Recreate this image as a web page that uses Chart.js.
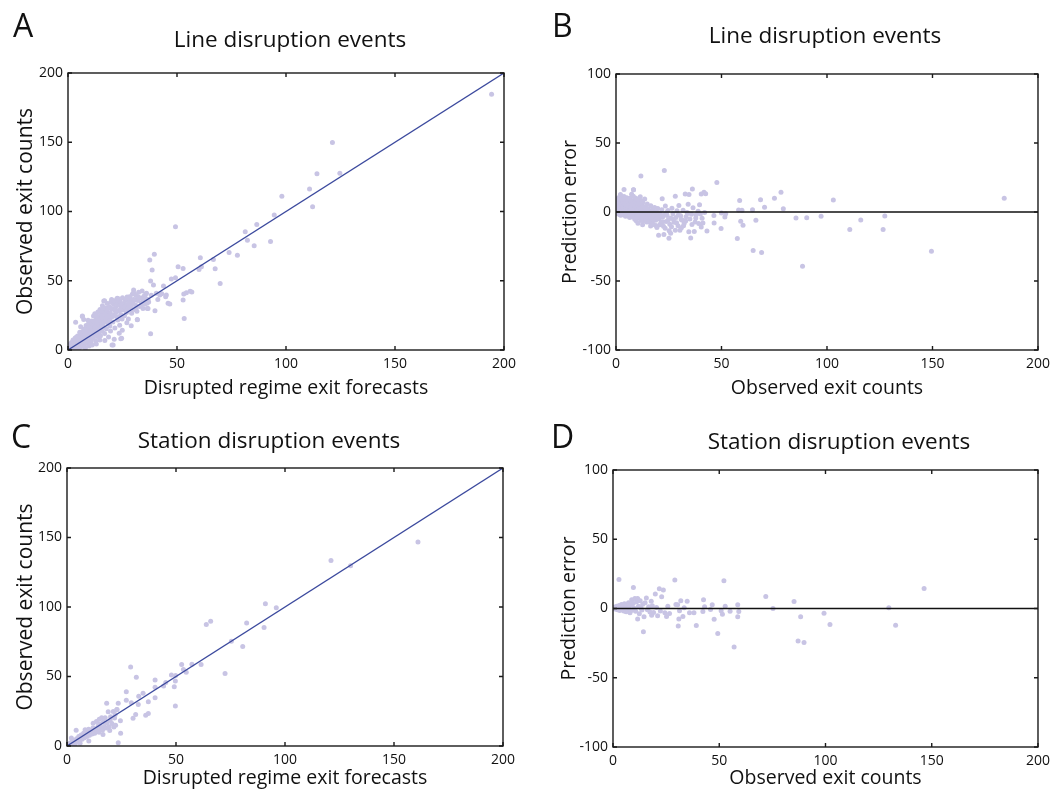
<!DOCTYPE html>
<html>
<head>
<meta charset="utf-8">
<script src="https://cdn.jsdelivr.net/npm/chart.js@4/dist/chart.umd.min.js"></script>
<style>
  body { margin: 0; background: #fff; }
  #wrap { position: relative; width: 1056px; height: 792px; font-family: "Open Sans", sans-serif; color: #111; }
  .panel { position: absolute; width: 528px; }
  .panel canvas { display: block; }
  .letter { position: absolute; font-size: 32px; line-height: 32px; }
  .title { position: absolute; width: 400px; text-align: center; font-size: 22.5px; line-height: 22px; }
</style>
</head>
<body>
<div id="wrap">
  <div class="panel" style="left:0;top:0"><canvas id="chartA" width="528" height="402"></canvas></div>
  <div class="panel" style="left:528px;top:0"><canvas id="chartB" width="528" height="402"></canvas></div>
  <div class="panel" style="left:0;top:396px"><canvas id="chartC" width="528" height="396"></canvas></div>
  <div class="panel" style="left:528px;top:396px"><canvas id="chartD" width="528" height="396"></canvas></div>

  <div class="letter" style="left:13px;top:9px">A</div>
  <div class="letter" style="left:552px;top:9px">B</div>
  <div class="letter" style="left:11px;top:420px">C</div>
  <div class="letter" style="left:551px;top:420px">D</div>

  <div class="title" style="left:90px;top:28px">Line disruption events</div>
  <div class="title" style="left:625px;top:24px">Line disruption events</div>
  <div class="title" style="left:69px;top:429px">Station disruption events</div>
  <div class="title" style="left:639px;top:430px">Station disruption events</div>
</div>

<script>
// ---- DATA ----
const axisTicks = [0, 50, 100, 150, 200];
const errorTicks = [-100, -50, 0, 50, 100];
const refLineX = [0, 200];

// A: line disruptions, [forecast, observed]
const lineForecastVsObserved = [
  [0.3,0.5],[0.6,1.8],[1.0,0.4],[1.2,2.6],[1.5,1.1],[1.8,3.4],[2.0,0.2],[2.2,1.9],[2.5,4.1],[2.7,2.8],
  [3.0,0.9],[3.1,5.2],[3.4,3.3],[3.6,1.6],[3.9,6.4],[4.1,4.5],[4.3,2.4],[4.6,7.5],[4.8,5.6],[5.0,3.1],
  [0.8,3.9],[1.6,5.5],[2.3,7.2],[3.3,8.6],[4.4,10.1],[4.0,0.8],[5.2,1.7],
  [5.3,8.8],[5.5,6.2],[5.7,4.0],[5.9,11.4],[6.1,7.3],[6.3,2.6],[6.5,9.6],[6.7,13.3],[6.9,5.4],[7.1,8.1],
  [7.3,15.2],[7.5,3.7],[7.7,10.8],[7.9,6.9],[8.1,12.4],[8.3,17.6],[8.5,4.8],[8.7,9.3],[8.9,14.6],[9.1,7.8],
  [9.3,11.7],[9.5,19.4],[9.7,2.9],[9.9,13.5],[10.0,8.9],[6.6,24.2],[7.2,22.1],[9.2,21.5],[5.8,16.7],[8.0,1.4],
  [10.2,16.3],[10.4,10.7],[10.6,5.9],[10.8,21.0],[11.0,13.2],[11.3,18.5],[11.5,8.4],[11.7,24.6],[11.9,15.7],
  [12.1,11.3],[12.3,26.2],[12.5,19.8],[12.7,6.7],[12.9,14.4],[13.1,22.6],[13.3,17.1],[13.5,9.8],[13.7,27.4],
  [13.9,20.3],[14.1,12.6],[14.3,24.0],[14.5,16.2],[14.7,29.3],[14.9,10.2],[15.0,21.4],[11.1,3.6],[13.0,4.3],[14.6,7.2],
  [15.2,18.6],[15.4,25.9],[15.6,13.7],[15.8,32.0],[16.0,22.5],[16.2,16.8],[16.4,35.3],[16.6,27.7],[16.8,11.9],
  [17.0,20.6],[17.2,30.4],[17.4,24.3],[17.6,15.3],[17.8,28.8],[18.0,33.6],[18.2,19.5],[18.4,26.1],[18.6,9.4],
  [18.8,22.9],[19.0,31.2],[19.2,17.4],[19.4,27.1],[19.6,34.5],[19.8,23.8],[20.0,36.4],[20.2,3.6],[19.5,13.8],[16.9,6.8],
  [20.3,29.6],[20.6,20.2],[20.9,33.1],[21.2,25.4],[21.5,15.9],[21.8,30.7],[22.1,27.3],[22.4,36.8],[22.6,37.3],
  [22.8,21.7],[23.1,32.4],[23.4,28.5],[23.7,17.8],[24.0,34.9],[24.2,25.6],[24.5,30.1],[24.6,8.4],[24.8,22.3],
  [25.0,37.7],[21.2,7.7],[23.5,12.1],[24.9,14.2],[22.0,33.9],
  [25.3,28.9],[25.6,33.4],[25.9,24.8],[26.2,35.6],[26.5,30.3],[26.8,27.1],[27.1,38.2],[27.4,32.6],[27.7,22.4],
  [28.0,35.0],[28.3,29.7],[28.6,36.9],[28.9,31.8],[29.2,26.5],[29.5,40.3],[29.8,33.7],[30.1,43.3],[30.1,41.4],
  [30.4,29.2],[27.0,19.6],[29.0,17.5],
  [30.7,36.2],[31.0,32.5],[31.3,39.4],[31.6,28.0],[31.8,21.9],[32.0,35.8],[32.4,41.7],[32.8,31.4],[33.2,37.5],
  [33.6,34.1],[34.0,42.6],[34.4,29.9],[34.8,38.8],[35.2,33.0],[35.6,40.5],[36.0,41.0],[36.4,30.0],[36.7,36.4],[37.0,34.6],
  [0.5,2.4],[0.9,1.0],[1.3,4.3],[1.7,0.6],[2.1,5.0],[2.4,2.2],[2.8,6.0],[3.2,1.3],[3.5,4.7],[3.8,9.2],
  [4.2,3.0],[4.5,5.9],[4.9,8.3],[5.4,12.8],[5.6,2.2],[6.0,9.9],[6.4,5.1],[6.8,11.6],[7.0,3.0],[7.4,12.9],
  [7.8,9.0],[8.2,5.6],[8.6,15.8],[9.0,10.6],[9.4,6.1],[9.8,16.9],[10.1,12.3],[10.5,8.0],[10.9,18.9],[11.2,14.8],
  [11.6,10.0],[12.0,20.9],[12.4,16.3],[12.8,12.0],[13.2,24.8],[13.6,19.0],[14.0,15.2],[14.4,21.8],[14.8,13.6],[15.3,27.9],
  [15.7,23.2],[16.1,19.4],[16.5,30.1],[17.1,25.9],[17.5,22.1],[18.1,29.6],[18.7,24.6],[19.3,20.9],[19.9,30.0],[20.5,24.2],
  [21.1,35.4],[21.7,28.6],[22.5,24.0],[23.3,35.6],[24.1,29.3],[24.8,33.1],[25.7,31.0],[26.6,36.8],[27.5,29.8],[28.2,38.4],
  [29.1,34.4],[30.0,36.5],[31.1,30.3],[32.2,38.3],[33.4,32.2],[34.6,36.3],[35.5,37.5],[36.3,33.7],[38.2,39.6],[41.2,36.4],[43.0,40.6],
  [194.3,184.6],[121.3,149.8],[114.2,127.2],[124.7,127.6],[110.8,116.3],[112.2,103.4],[98.1,111.1],[94.6,97.4],
  [86.6,90.6],[81.3,85.3],[82.3,79.3],[85.4,75.2],[92.9,78.4],[73.9,70.4],[77.7,68.5],[60.7,66.6],[66.7,65.4],
  [67.5,58.7],[69.8,48.1],[60.1,58.2],[61.2,60.1],[49.3,88.9],[39.6,69.2],[37.5,64.9],[38.6,57.7],[50.5,60.1],
  [52.8,58.9],[47.4,51.2],[49.3,52.2],[37.9,49.8],[39.2,46.9],[43.8,46.2],[53.1,40.4],[54.3,41.3],[56.0,42.5],
  [56.8,41.8],[52.8,36.1],[53.3,22.8],[37.9,11.8],[39.9,28.4],[42.1,39.7],[44.8,38.5],[45.1,39.7],[45.9,33.7],
  [46.7,33.2],[40.5,40.9],[23.1,37.0],[16.8,35.6],[6.6,24.5],[3.5,20.0],[20.7,3.6],[24.2,8.2],[31.8,22.1],[36.7,30.0]
];

// B: line disruptions, [observed, prediction error]
const lineObservedVsError = [
  [0.5,1.2],[0.8,4.5],[1.0,-1.3],[1.3,7.6],[1.5,2.8],[1.8,0.3],[2.0,5.9],[2.3,-2.4],[2.5,9.8],[2.8,3.7],
  [3.0,1.0],[3.3,6.6],[3.5,-0.8],[3.8,11.2],[4.0,4.2],[4.3,2.0],[4.5,-3.1],[4.8,7.9],[5.0,0.6],[1.2,10.4],[2.1,12.6],[0.6,-0.4],
  [5.3,5.1],[5.6,-1.9],[5.9,9.2],[6.2,2.7],[6.5,-4.0],[6.8,6.8],[7.1,0.9],[7.4,12.8],[7.7,3.9],[8.0,-2.6],
  [8.3,8.3],[8.6,1.5],[8.9,-5.2],[9.2,10.1],[9.5,4.4],[9.8,-1.0],[10.0,6.3],[8.3,16.1],[6.0,-3.1],[9.6,-6.4],
  [10.3,2.2],[10.6,-3.7],[10.9,8.7],[11.2,0.4],[11.5,11.0],[11.8,-6.1],[12.1,4.9],[12.4,-1.8],[12.7,7.1],[13.0,1.7],
  [13.3,-4.8],[13.6,9.4],[13.9,-0.5],[14.2,3.5],[14.5,-7.3],[14.8,5.8],[15.0,-2.2],[11.8,26.0],[10.4,-8.1],[12.6,-9.2],
  [15.3,2.4],[15.6,-5.6],[15.9,0.8],[16.2,-3.3],[16.5,4.6],[16.8,-8.4],[17.1,-1.4],[17.4,1.9],[17.7,-6.2],[18.0,-0.6],
  [18.3,3.3],[18.6,-4.1],[18.9,-9.7],[19.2,0.2],[19.5,-2.9],[19.8,2.6],
  [20.2,-16.8],[20.5,-5.1],[20.9,-0.9],[21.3,-7.8],[21.7,1.6],[21.9,9.6],[22.1,-3.6],[22.5,-10.4],[22.7,-16.3],[22.9,30.0],
  [23.0,-1.9],[23.4,4.3],[23.8,-6.9],[24.2,-2.5],[24.6,1.1],[25.1,-19.0],[25.2,-13.5],[25.5,-8.8],[25.9,-15.4],[26.0,-4.4],
  [26.5,2.8],[27.0,-1.3],[27.5,-7.5],[28.1,11.5],[28.1,-13.2],[28.4,-3.9],[28.9,0.9],[29.4,-9.9],[29.8,4.7],
  [30.3,-13.2],[30.6,-2.7],[31.0,-11.5],[31.4,-6.0],[31.8,1.3],[32.3,-8.3],[32.8,13.0],[33.2,-3.4],[33.7,-0.4],[34.2,5.6],
  [34.5,-14.4],[34.6,12.7],[35.0,-5.0],[35.4,-18.8],[35.8,-1.6],[36.2,16.6],[36.5,3.0],[37.1,-14.2],[37.5,-7.2],[38.0,-2.0],
  [38.9,0.5],[39.6,5.3],[40.4,-10.8],[40.4,13.0],[40.8,-4.6],[41.2,-7.9],[41.7,14.4],[42.5,13.2],[42.0,-0.3],[43.1,-13.7],
  [0.4,3.0],[0.7,6.2],[0.9,8.8],[1.1,2.0],[1.4,5.0],[1.7,9.1],[1.9,-2.0],[2.2,3.4],[2.4,7.0],[2.6,1.1],
  [2.9,5.4],[3.1,8.3],[3.2,-1.9],[3.4,3.0],[3.7,6.1],[3.9,0.2],[4.2,9.6],[4.4,5.5],[4.6,1.4],[4.9,3.3],
  [5.1,10.3],[5.4,-0.6],[5.7,4.0],[5.8,7.4],[6.1,0.0],[6.3,5.6],[6.6,9.9],[6.9,-1.6],[7.0,3.3],[7.2,7.9],
  [7.5,-3.4],[7.8,5.9],[8.1,1.0],[8.2,11.4],[8.5,-3.7],[8.8,4.7],[9.0,-0.3],[9.3,7.2],[9.7,2.2],[9.9,-3.9],
  [10.1,9.5],[10.5,4.1],[10.8,-1.4],[11.0,6.0],[11.4,-4.4],[11.7,2.6],[12.0,-2.9],[12.2,8.0],[12.5,0.8],[12.9,-6.3],
  [13.2,4.0],[13.5,-2.5],[13.8,0.9],[14.1,-5.3],[14.4,2.0],[14.7,-3.6],[15.1,-0.6],[15.5,-7.2],[16.0,-1.8],[16.4,-10.1],
  [17.0,-4.6],[17.6,-9.0],[18.2,-2.2],[18.8,-6.0],[19.4,-11.3],[19.9,-4.2],[20.8,-9.3],[21.5,-3.1],[22.2,-7.0],[23.3,-11.8],
  [24.0,-0.4],[24.8,-5.6],[26.3,-10.6],[27.2,-5.2],[28.7,-7.8],[29.6,-2.0],[30.9,-5.5],[32.0,-9.9],[33.0,-6.5],[34.0,-1.0],
  [36.0,-9.0],[37.8,-4.3],[39.2,-8.4],[40.0,-1.5],
  [184.0,9.9],[149.5,-28.4],[127.4,-2.9],[126.6,-12.7],[116.0,-5.8],[110.8,-12.7],[103.0,8.7],[97.2,-3.1],[90.4,-4.1],
  [85.3,-4.3],[88.4,-39.4],[79.3,2.4],[78.2,14.4],[75.1,9.9],[70.4,3.4],[68.5,8.9],[69.0,-29.3],[65.0,-27.9],[66.3,-6.0],
  [64.7,1.7],[60.2,-9.6],[59.1,-6.7],[59.7,1.2],[58.6,8.4],[58.1,1.4],[57.5,-19.2],[47.8,21.4],[49.8,-12.0],[46.5,-7.9],
  [46.4,-2.6],[51.6,-3.6],[52.0,-1.2],[50.0,-0.7],[3.8,16.3],[8.3,16.1]
];

// C: station disruptions, [forecast, observed]
const stationForecastVsObserved = [
  [0.4,0.6],[0.8,1.5],[1.2,0.3],[1.5,2.2],[1.9,1.1],[2.3,3.0],[2.6,1.8],[3.0,4.1],[3.3,2.5],[3.7,1.4],
  [4.0,3.6],[4.4,5.2],[4.7,2.9],[5.1,4.4],[5.4,6.8],[5.8,3.7],[6.2,5.5],[6.5,7.9],[6.9,4.8],[7.3,6.4],
  [7.6,9.1],[8.0,5.9],[8.4,7.6],[8.8,10.4],[9.1,6.8],[9.5,8.9],[9.9,12.1],[10.3,7.7],[10.7,9.8],[11.1,11.4],
  [11.5,8.6],[11.9,13.0],[12.3,10.6],[12.7,9.2],[13.1,12.4],[13.5,17.6],[13.9,11.0],[14.3,14.3],[14.7,9.9],[15.1,15.8],
  [15.5,12.7],[15.9,20.3],[16.3,11.5],[16.7,17.2],[17.1,14.1],[17.5,20.4],[17.9,12.9],[18.3,16.5],[18.9,24.7],[19.3,13.8],
  [19.8,18.4],[20.0,21.1],[20.6,16.2],[21.2,24.9],[21.8,20.2],[22.3,14.9],[22.9,26.2],[23.5,2.4],[23.5,30.7],[24.5,18.2],
  [24.6,9.1],[18.2,30.7],[4.2,11.3],[2.0,5.8],[8.3,11.7],[12.0,16.4],[14.8,19.2],[6.0,1.9],[10.0,3.6],[16.5,8.2],
  [19.6,11.1],[21.5,13.7],[22.1,22.6],
  [161.0,146.7],[121.1,133.5],[130.1,129.7],[91.0,102.3],[96.0,99.4],[90.4,85.2],[82.4,88.4],[80.6,71.5],[75.4,75.4],
  [72.5,52.1],[63.9,87.4],[65.9,89.8],[61.5,58.6],[57.3,58.8],[52.6,58.6],[53.4,55.0],[54.7,53.1],[47.9,51.1],[49.8,50.7],
  [49.7,46.8],[49.2,42.7],[49.7,28.8],[45.3,45.6],[44.3,43.2],[40.4,47.5],[40.4,42.3],[40.4,34.8],[29.2,56.9],[31.8,49.5],
  [34.9,37.9],[32.9,35.8],[32.7,29.8],[37.3,31.9],[36.1,22.1],[37.3,23.3],[31.5,22.6],[30.3,19.9],[27.2,39.1],[27.2,32.9],
  [29.5,31.2],[22.9,26.2]
];

// D: station disruptions, [observed, prediction error]
const stationObservedVsError = [
  [0.3,0.2],[0.7,1.0],[1.0,-0.4],[1.4,0.6],[1.8,1.6],[2.1,-0.9],[2.5,0.3],[2.8,21.0],[2.9,2.1],[3.2,-1.5],
  [3.6,0.8],[4.0,2.9],[4.3,-0.2],[4.7,1.4],[5.1,-1.8],[5.4,3.4],[5.8,0.5],[6.2,-2.4],[6.5,2.0],[6.9,-0.7],
  [7.3,4.1],[7.6,1.1],[8.0,-3.1],[8.4,2.6],[8.8,6.4],[9.1,-1.2],[9.5,3.7],[9.6,15.2],[9.9,0.2],[10.3,7.2],
  [10.7,-2.0],[11.1,4.8],[11.6,7.2],[11.6,-7.5],[12.0,1.6],[12.4,-3.8],[12.8,5.6],[13.2,0.4],[13.6,-1.1],[14.0,3.0],
  [14.3,-16.7],[14.6,-6.0],[15.1,4.1],[15.7,7.5],[16.2,-0.9],[16.8,1.2],[17.4,-2.6],[18.0,5.3],[18.2,-4.8],[18.5,1.9],
  [19.1,-2.9],[19.9,10.4],[20.5,0.7],[21.0,-5.3],[21.8,14.3],[22.3,-1.8],[22.9,8.5],[23.7,13.3],[24.4,-3.1],[25.2,-5.8],
  [25.8,1.7],[26.6,-3.6],
  [146.4,14.5],[129.8,0.5],[133.0,-12.1],[102.1,-11.6],[99.3,-3.4],[89.9,-24.6],[87.1,-23.4],[88.3,-6.0],[85.2,5.1],
  [75.3,0.0],[71.9,8.7],[57.0,-27.8],[59.2,-2.2],[58.7,-6.0],[58.7,2.7],[55.1,-1.9],[52.2,20.0],[52.8,1.7],[50.9,-1.7],
  [51.5,-4.1],[49.3,-18.1],[47.6,-7.7],[46.7,2.7],[45.9,-0.7],[42.6,6.3],[43.1,1.2],[42.3,-2.2],[39.2,-12.3],[38.1,-3.1],
  [36.0,-3.1],[34.9,5.3],[31.9,5.6],[32.9,-5.8],[33.5,0.5],[30.7,-12.6],[31.0,-7.5],[29.1,20.5],[29.6,2.9],[30.4,2.7],[31.3,-1.7]
];

// ---- STYLE ----
const FONT = "'Open Sans', sans-serif";
const DOT = "#c8c4e4";
const DIAG = "#3c4a9e";

// frame + inward tick marks, matlab style
const frameTicks = {
  id: "frameTicks",
  afterDatasetsDraw(chart) {
    const { ctx, chartArea: a, scales: { x, y } } = chart;
    ctx.save();
    ctx.strokeStyle = "#1a1a1a";
    ctx.lineWidth = 1.4;
    ctx.strokeRect(a.left, a.top, a.right - a.left, a.bottom - a.top);
    ctx.beginPath();
    x.ticks.forEach(t => {
      const px = x.getPixelForValue(t.value);
      ctx.moveTo(px, a.bottom); ctx.lineTo(px, a.bottom - 4);
      ctx.moveTo(px, a.top); ctx.lineTo(px, a.top + 4);
    });
    y.ticks.forEach(t => {
      const py = y.getPixelForValue(t.value);
      ctx.moveTo(a.left, py); ctx.lineTo(a.left + 4, py);
      ctx.moveTo(a.right, py); ctx.lineTo(a.right - 4, py);
    });
    ctx.stroke();
    ctx.restore();
  }
};

function makePanel(canvasId, cfg) {
  const points = cfg.points.map(p => ({ x: p[0], y: p[1] }));
  const refLine = refLineX.map(v => ({ x: v, y: cfg.diagonal ? v : 0 }));

  return new Chart(document.getElementById(canvasId), {
    type: "scatter",
    data: {
      datasets: [
        {
          type: "line",
          data: refLine,
          borderColor: cfg.diagonal ? DIAG : "#111",
          borderWidth: cfg.diagonal ? 1.3 : 1.4,
          pointRadius: 0,
          clip: 0
        },
        {
          data: points,
          backgroundColor: DOT,
          borderWidth: 0,
          pointRadius: 2.5,
          clip: 0
        }
      ]
    },
    options: {
      responsive: false,
      animation: false,
      layout: { padding: cfg.pad },
      plugins: { legend: { display: false }, tooltip: { enabled: false } },
      scales: {
        x: {
          type: "linear",
          min: 0, max: 200,
          afterBuildTicks: s => { s.ticks = axisTicks.map(v => ({ value: v })); },
          afterFit: s => { s.height = cfg.xH; },
          grid: { display: false, drawTicks: false, tickLength: 0 },
          border: { display: false },
          ticks: { font: { family: FONT, size: 14 }, color: "#111", padding: 6, maxRotation: 0 },
          title: {
            display: true, text: cfg.xTitle, color: "#111",
            font: { family: FONT, size: 19.5, lineHeight: 1 },
            padding: { top: 0, bottom: cfg.xTitlePad }
          }
        },
        y: {
          type: "linear",
          min: cfg.yTicks[0], max: cfg.yTicks[cfg.yTicks.length - 1],
          afterBuildTicks: s => { s.ticks = cfg.yTicks.map(v => ({ value: v })); },
          afterFit: s => { s.width = cfg.yW; },
          grid: { display: false, drawTicks: false, tickLength: 0 },
          border: { display: false },
          ticks: { font: { family: FONT, size: 14 }, color: "#111", padding: 5 },
          title: {
            display: true, text: cfg.yTitle, color: "#111",
            font: { family: FONT, size: cfg.yTitleSize, lineHeight: 1 },
            padding: { top: cfg.yTitlePad, bottom: 0 }
          }
        }
      }
    },
    plugins: [frameTicks]
  });
}

makePanel("chartA", {
  points: lineForecastVsObserved, diagonal: true, yTicks: axisTicks,
  xTitle: "Disrupted regime exit forecasts", yTitle: "Observed exit counts", yTitleSize: 21,
  pad: { top: 73, right: 24, left: 0, bottom: 0 }, yW: 68, xH: 52, xTitlePad: 4, yTitlePad: 16
});
makePanel("chartB", {
  points: lineObservedVsError, diagonal: false, yTicks: errorTicks,
  xTitle: "Observed exit counts", yTitle: "Prediction error", yTitleSize: 19.5,
  pad: { top: 74, right: 15, left: 0, bottom: 0 }, yW: 88, xH: 52, xTitlePad: 4, yTitlePad: 33
});
makePanel("chartC", {
  points: stationForecastVsObserved, diagonal: true, yTicks: axisTicks,
  xTitle: "Disrupted regime exit forecasts", yTitle: "Observed exit counts", yTitleSize: 21,
  pad: { top: 72, right: 25, left: 0, bottom: 0 }, yW: 67, xH: 46, xTitlePad: 4, yTitlePad: 16
});
makePanel("chartD", {
  points: stationObservedVsError, diagonal: false, yTicks: errorTicks,
  xTitle: "Observed exit counts", yTitle: "Prediction error", yTitleSize: 19.5,
  pad: { top: 74, right: 17, left: 0, bottom: 0 }, yW: 85, xH: 45, xTitlePad: 4, yTitlePad: 32
});
</script>
</body>
</html>
